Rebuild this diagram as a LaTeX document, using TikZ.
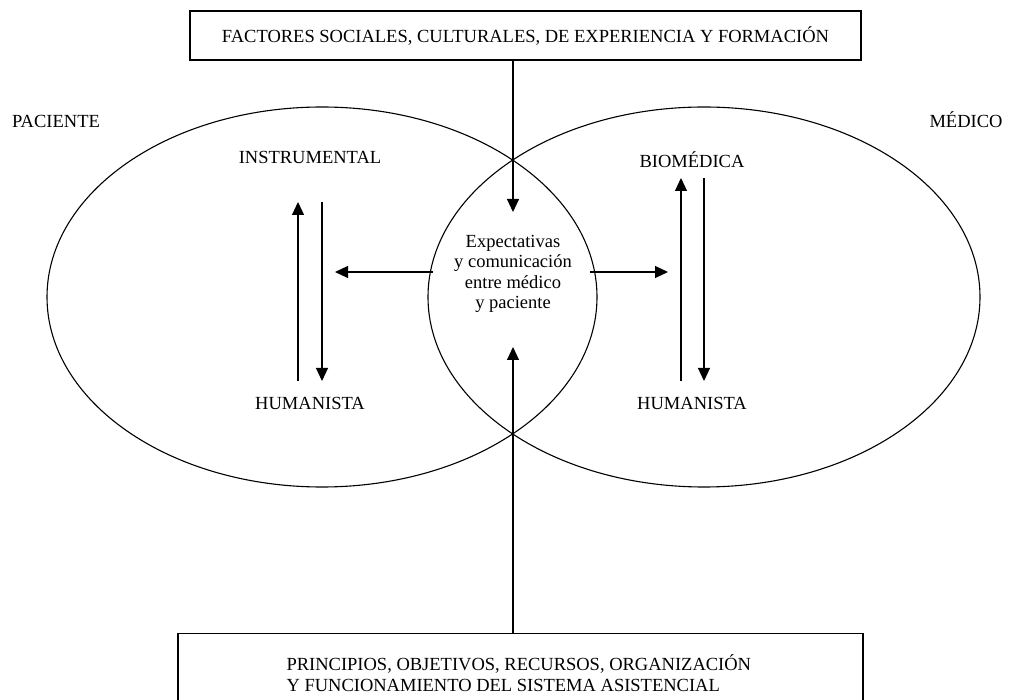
\documentclass[tikz,border=0pt]{standalone}
\usepackage{fontspec}
\setmainfont{Liberation Serif}
\usetikzlibrary{arrows.meta,shapes.geometric}

\tikzset{
  caja/.style={draw, line width=1.1pt, inner sep=0pt},
  region/.style={draw, ellipse, line width=1.1pt, inner sep=0pt},
  flecha/.style={-{Triangle[length=13pt,width=12pt]}, line width=1.1pt},
}

\begin{document}
\begin{tikzpicture}[x=1pt, y=-1pt, font=\fontsize{18.5}{20.5}\selectfont]
  \clip (0,0) rectangle (1010,700);
  \draw
    (322,297) node[region, minimum width=550, minimum height=380] (paciente){}
    (704,297) node[region, minimum width=552, minimum height=380] (medico){}
    (525.5,35.5) node[caja, minimum width=671, minimum height=49] (factores)
      {FACTORES SOCIALES, CULTURALES, DE EXPERIENCIA Y FORMACIÓN}
    (520.5,633) node[caja, anchor=north, minimum width=685, minimum height=100] (sistema){}
    (283,673) node[anchor=west, align=left] (sistematexto)
      {PRINCIPIOS, OBJETIVOS, RECURSOS, ORGANIZACIÓN\\Y FUNCIONAMIENTO DEL SISTEMA ASISTENCIAL}
    (56,128) node[anchor=base] (pacientetexto){PACIENTE}
    (966,128) node[anchor=base] (medicotexto){MÉDICO}
    (310,157) node (instrumental){INSTRUMENTAL}
    (310,403) node (humanistaP){HUMANISTA}
    (692,160) node (biomedica){BIOMÉDICA}
    (692,403) node (humanistaM){HUMANISTA}
    (513,274) node[align=center] (expectativas)
      {Expectativas\\y comunicación\\entre médico\\y paciente};
  % extremos de las flechas
  \coordinate (arriba) at (513,212);
  \coordinate (abajo) at (513,347);
  \coordinate (izqA) at (433,272);
  \coordinate (izqB) at (335,272);
  \coordinate (derA) at (590,272);
  \coordinate (derB) at (668,272);
  \coordinate (p1a) at (298,381);
  \coordinate (p1b) at (298,202);
  \coordinate (p2a) at (322,202);
  \coordinate (p2b) at (322,381);
  \coordinate (m1a) at (681,381);
  \coordinate (m1b) at (681,178);
  \coordinate (m2a) at (704,178);
  \coordinate (m2b) at (704,381);
  \begin{scope}[flecha]
    \draw (factores.south -| arriba) to (arriba);
    \draw (sistema.north -| abajo) to (abajo);
    \draw (izqA) to (izqB);
    \draw (derA) to (derB);
    \draw (p1a) to (p1b);
    \draw (p2a) to (p2b);
    \draw (m1a) to (m1b);
    \draw (m2a) to (m2b);
  \end{scope}
\end{tikzpicture}
\end{document}
